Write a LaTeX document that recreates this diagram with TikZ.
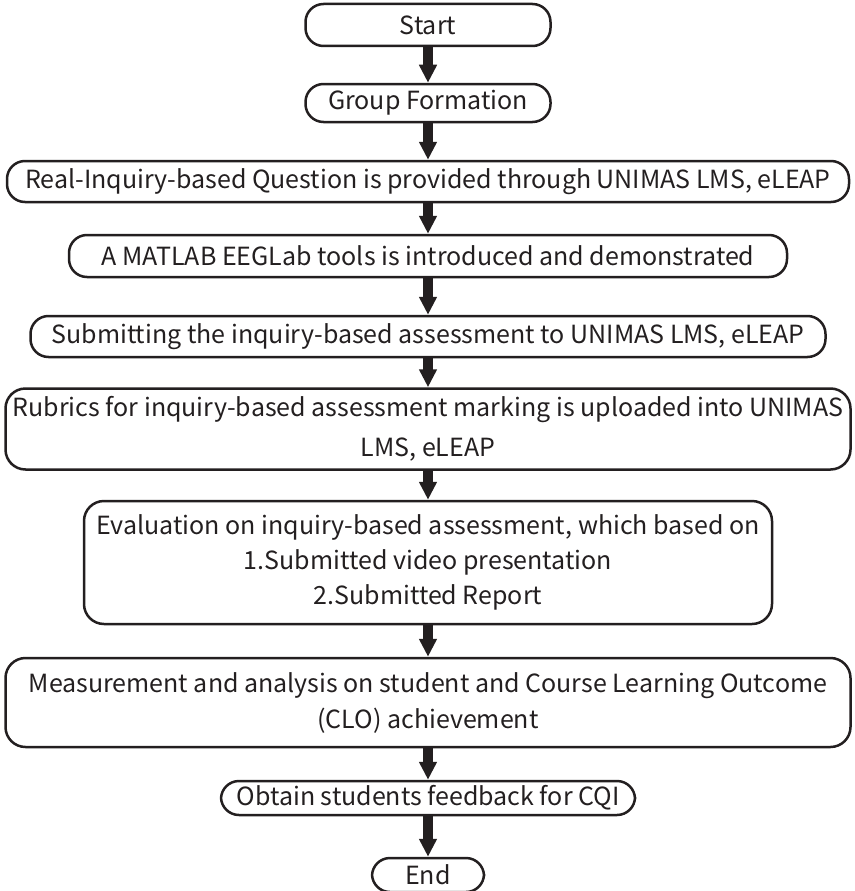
\documentclass[tikz,border=0pt]{standalone}
\usepackage{fontspec}
\setmainfont{Noto Sans CJK SC}
\usetikzlibrary{arrows.meta,positioning}
\definecolor{inkgray}{HTML}{231F20}

\tikzset{
  stepbox/.style={draw=inkgray, line width=2.5pt, rounded corners=20pt,
    text=inkgray, align=center, inner sep=0pt,
    font=\fontsize{25}{35}\selectfont},
  pillbox/.style={stepbox, rounded corners=18pt},
  flowarrow/.style={draw=inkgray, line width=10pt,
    -{Triangle[length=18pt,width=17pt]}}
}

\begin{document}
\begin{tikzpicture}[x=1pt,y=-1pt]

  \useasboundingbox (0,0) rectangle (854,891);

  % Steps of the flow
  \node[pillbox, minimum width=245pt, minimum height=42pt] (start) at (428,25) {Start};
  \node[pillbox, minimum width=245pt, minimum height=38pt] (group) at (428,103) {Group Formation};
  \node[pillbox, minimum width=842pt, minimum height=41pt] (question) at (428,181.5)
    {Real-Inquiry-based Question is provided through UNIMAS LMS, eLEAP};
  \node[pillbox, minimum width=718pt, minimum height=42pt] (matlab) at (428,256)
    {A MATLAB EEGLab tools is introduced and demonstrated};
  \node[pillbox, minimum width=795pt, minimum height=41pt] (submit) at (428,336.5)
    {Submitting the inquiry-based assessment to UNIMAS LMS, eLEAP};
  \node[stepbox, minimum width=845pt, minimum height=81pt] (rubric) at (428,429)
    {Rubrics for inquiry-based assessment marking is uploaded into UNIMAS\\[5pt]LMS, eLEAP};
  \node[stepbox, minimum width=688pt, minimum height=123pt] (evaluate) at (428,562.5)
    {Evaluation on inquiry-based assessment, which based on\\1.Submitted video presentation\\2.Submitted Report};
  \node[stepbox, minimum width=845pt, minimum height=89pt] (measure) at (428,702.5)
    {Measurement and analysis on student and Course Learning Outcome\\[1pt](CLO) achievement};
  \node[pillbox, minimum width=414pt, minimum height=34pt] (feedback) at (428,798)
    {Obtain students feedback for CQI};
  \node[pillbox, minimum width=112pt, minimum height=34pt] (finish) at (428,875) {End};

  % Arrows between the steps
  \foreach \a/\b in {start/group, group/question, question/matlab, matlab/submit,
      submit/rubric, rubric/evaluate, evaluate/measure, measure/feedback, feedback/finish}
    \draw[flowarrow] (\a.south) -- (\b.north);

\end{tikzpicture}
\end{document}
